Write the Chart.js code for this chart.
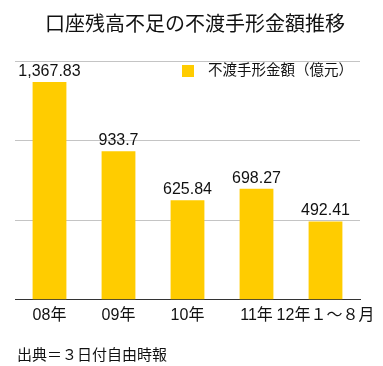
<!DOCTYPE html>
<html>
<head>
<meta charset="utf-8">
<script src="https://cdn.jsdelivr.net/npm/chart.js@4"></script>
<style>
  html, body { margin: 0; padding: 0; background: #fff; }
  #wrap { width: 383px; height: 366px; }
</style>
</head>
<body>
<div id="wrap"><canvas id="chart" width="383" height="366"></canvas></div>
<script>
// データ
var titleText = '口座残高不足の不渡手形金額推移';
var sourceText = '出典＝３日付自由時報';
var seriesName = '不渡手形金額（億元）';
var years = ['08年', '09年', '10年', '11年', '12年１～８月'];
var amounts = [1367.83, 933.7, 625.84, 698.27, 492.41];
var amountLabels = ['1,367.83', '933.7', '625.84', '698.27', '492.41'];

var FONT = '"Liberation Sans", "Noto Sans CJK JP", sans-serif';
var BAR_COLOR = '#FFCC00';

// タイトル・凡例・出典・数値ラベル
var extras = {
  id: 'extras',
  afterDatasetsDraw: function(chart) {
    var ctx = chart.ctx;
    ctx.save();
    ctx.fillStyle = '#111';

    // 数値ラベル
    ctx.font = '16px ' + FONT;
    ctx.textAlign = 'center';
    ctx.textBaseline = 'alphabetic';
    chart.getDatasetMeta(0).data.forEach(function(bar, i) {
      ctx.fillText(amountLabels[i], bar.x, bar.y - 6);
    });

    // タイトル
    ctx.font = '20px ' + FONT;
    ctx.textBaseline = 'middle';
    ctx.fillText(titleText, 195, 25);

    // 凡例
    ctx.fillStyle = BAR_COLOR;
    ctx.fillRect(182, 65, 12, 12);
    ctx.fillStyle = '#111';
    ctx.font = '14.5px ' + FONT;
    ctx.textAlign = 'left';
    ctx.fillText(seriesName, 208, 71);

    // 出典
    ctx.font = '15px ' + FONT;
    ctx.fillText(sourceText, 17, 356);
    ctx.restore();
  }
};

new Chart(document.getElementById('chart'), {
  type: 'bar',
  data: {
    labels: years,
    datasets: [{
      label: seriesName,
      data: amounts,
      backgroundColor: BAR_COLOR,
      barPercentage: 0.49,
      categoryPercentage: 1.0
    }]
  },
  options: {
    responsive: false,
    animation: false,
    layout: { padding: { top: 61, left: 15, right: 23, bottom: 35 } },
    plugins: {
      legend: { display: false },
      title: { display: false },
      tooltip: { enabled: false }
    },
    scales: {
      x: {
        grid: { display: false, drawTicks: false },
        border: { color: '#333', width: 1 },
        ticks: {
          color: '#111',
          padding: 6,
          font: { size: 16, family: FONT },
          maxRotation: 0,
          autoSkip: false
        }
      },
      y: {
        min: 0,
        max: 1500,
        ticks: { display: false, stepSize: 500 },
        grid: { color: '#c4c4c4', drawTicks: false },
        border: { display: false }
      }
    }
  },
  plugins: [extras]
});
</script>
</body>
</html>
